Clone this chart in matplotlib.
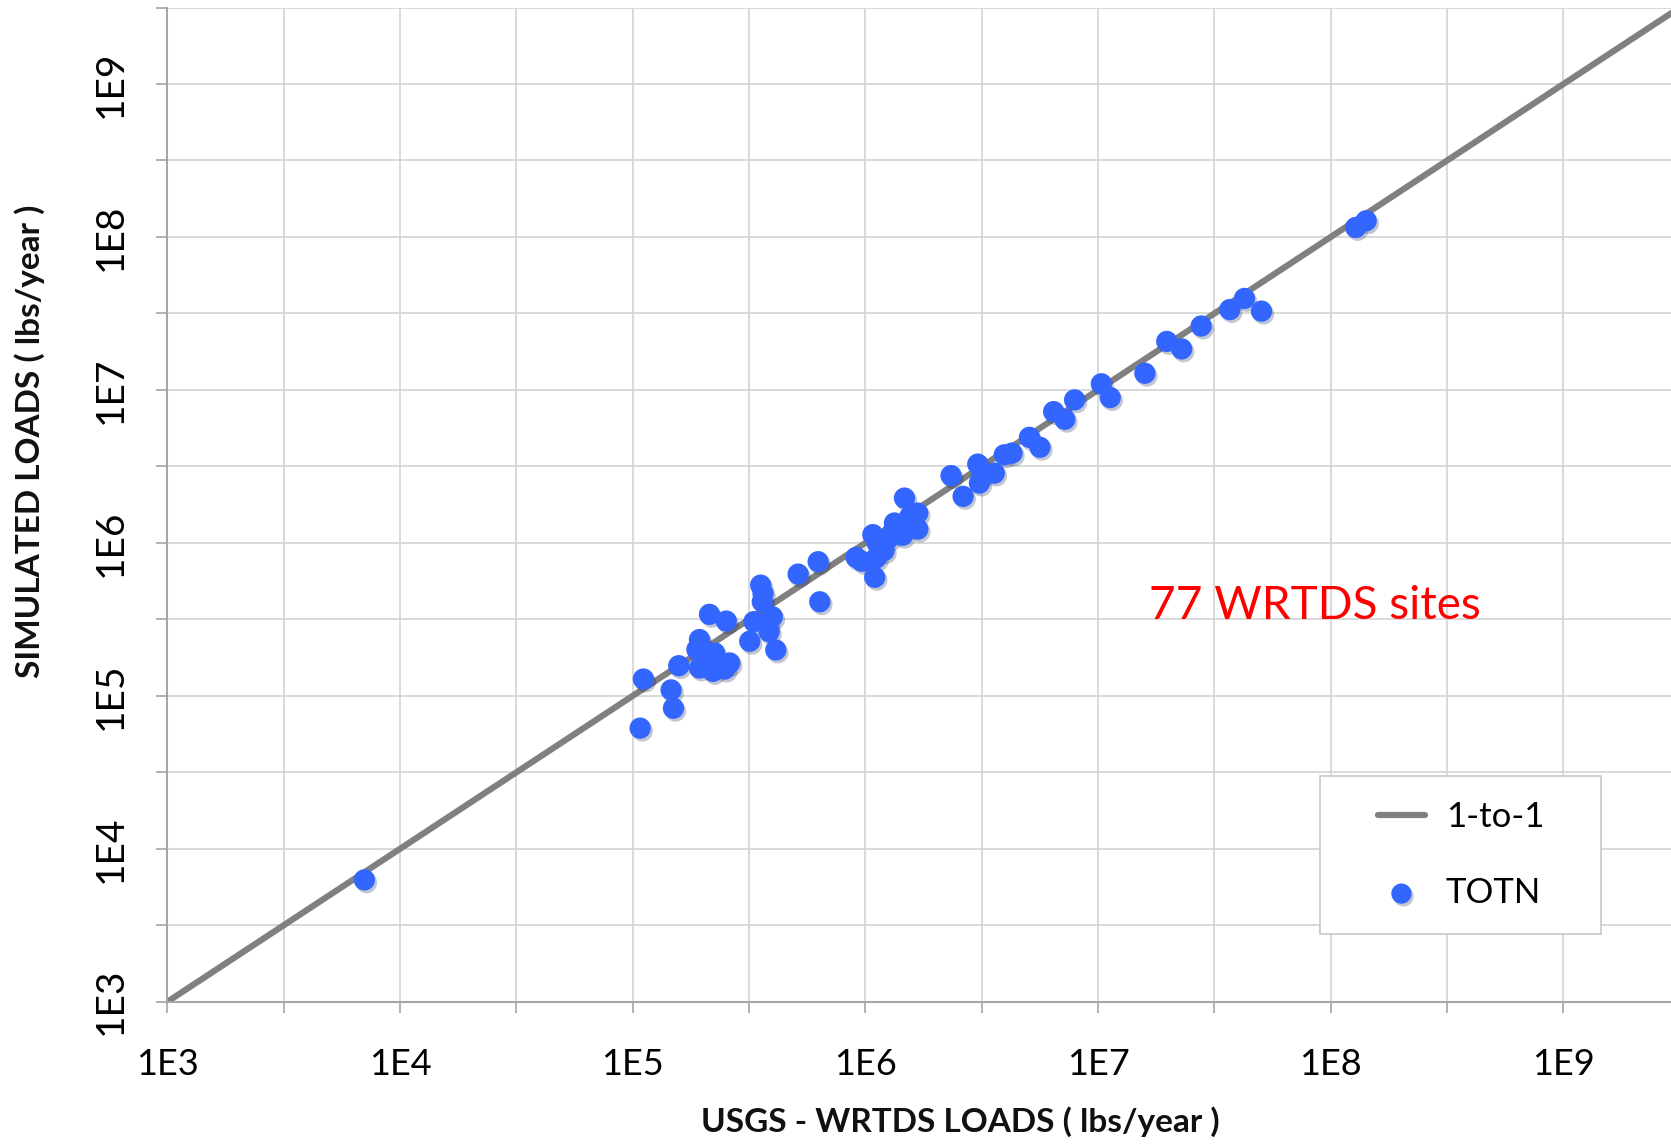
import numpy as np
import matplotlib
matplotlib.use("Agg")
import matplotlib.pyplot as plt
from matplotlib import patheffects as pe
from matplotlib.patches import Rectangle
from matplotlib.ticker import FixedLocator, FuncFormatter
import matplotlib.font_manager as fm

# ---- data (log10 values) ----
usgs_log = [3.847, 5.032, 5.046, 5.165, 5.175, 5.198, 5.276, 5.287, 5.330, 5.402,
            5.287, 5.352, 5.345, 5.417, 5.315, 5.395, 5.330, 5.370, 5.503, 5.521,
            5.550, 5.557, 5.600, 5.586, 5.615, 5.560, 5.580, 5.711, 5.797, 5.804,
            5.960, 5.985, 6.046, 6.032, 6.040, 6.100, 6.125, 6.160, 6.168, 6.225,
            6.225, 6.190, 6.080, 6.150, 6.050, 6.120, 6.368, 6.420, 6.483, 6.490,
            6.500, 6.554, 6.597, 6.630, 6.705, 6.750, 6.809, 6.857, 6.899, 7.014,
            7.052, 7.201, 7.295, 7.359, 7.443, 7.566, 7.629, 7.702, 8.107, 8.152]
sim_log = [3.797, 4.789, 5.110, 5.039, 4.919, 5.197, 5.303, 5.368, 5.533, 5.489,
           5.182, 5.281, 5.160, 5.215, 5.200, 5.175, 5.240, 5.220, 5.357, 5.485,
           5.724, 5.615, 5.517, 5.419, 5.300, 5.670, 5.470, 5.796, 5.877, 5.615,
           5.905, 5.880, 5.901, 6.054, 5.775, 6.030, 6.130, 6.050, 6.293, 6.195,
           6.090, 6.170, 5.950, 6.100, 6.000, 6.080, 6.440, 6.304, 6.515, 6.391,
           6.450, 6.456, 6.576, 6.587, 6.690, 6.625, 6.858, 6.808, 6.935, 7.040,
           6.950, 7.109, 7.317, 7.268, 7.418, 7.525, 7.598, 7.515, 8.062, 8.106]
usgs_loads = [10 ** v for v in usgs_log]
sim_loads = [10 ** v for v in sim_log]

one_to_one = [1e3, 1e10]
tick_labels = ["1E3", "1E4", "1E5", "1E6", "1E7", "1E8", "1E9"]
annotation = "77 WRTDS sites"

avail = {f.name for f in fm.fontManager.ttflist}
main_font = "Lato" if "Lato" in avail else "DejaVu Sans"
narrow_font = "Liberation Sans Narrow" if "Liberation Sans Narrow" in avail else main_font

W, H = 1671, 1144
fig = plt.figure(figsize=(W / 100, H / 100), dpi=100)
ax = fig.add_axes([167.3 / W, 1 - 1001.8 / H, 1 - 167.3 / W, (1001.8 - 7.5) / H])
ax.set_xscale("log")
ax.set_yscale("log")
ax.set_xlim(1e3, 10 ** 9.462)
ax.set_ylim(1e3, 10 ** 9.5)

half = [10 ** (k / 2) for k in range(6, 20)]


def fmt(v, p):
    lv = np.log10(v)
    if abs(lv - round(lv)) < 1e-6:
        return tick_labels[int(round(lv)) - 3] if 3 <= round(lv) <= 9 else ""
    return ""


for axis in (ax.xaxis, ax.yaxis):
    axis.set_major_locator(FixedLocator(half))
    axis.set_minor_locator(FixedLocator([]))
    axis.set_major_formatter(FuncFormatter(fmt))

ax.grid(True, which="major", color="#d3d3d3", linewidth=1.2)
ax.set_axisbelow(True)
for s in ("top", "right"):
    ax.spines[s].set_visible(False)
for s in ("left", "bottom"):
    ax.spines[s].set_color("#a6a6a6")
    ax.spines[s].set_linewidth(1.5)

ax.tick_params(axis="both", direction="out", length=8, width=1.2, color="#a6a6a6")
ax.tick_params(axis="x", pad=25, labelsize=26)
ax.tick_params(axis="y", pad=33, labelsize=28)
for lab in ax.get_xticklabels():
    lab.set_fontfamily(main_font)
for lab in ax.get_yticklabels():
    lab.set_fontfamily(narrow_font)
    lab.set_rotation(90)
    lab.set_va("center")
    lab.set_ha("center")

ax.plot(one_to_one, one_to_one, color="#808080", linewidth=4.5, zorder=2, label="1-to-1",
        solid_capstyle="round")
ax.scatter(usgs_loads, sim_loads, s=235, color="#3366ff", zorder=3, label="TOTN",
           linewidths=0,
           path_effects=[pe.SimplePatchShadow(offset=(1.5, -2), alpha=0.25), pe.Normal()])

ax.text(10 ** 7.22, 10 ** 5.59, annotation, color="#ff0000", fontsize=33,
        fontfamily=main_font, va="center", ha="left")

# legend box
x0, y0, x1, y1 = 1320.4, 775.8, 1600.7, 933.5
box = Rectangle((x0 / W, 1 - y1 / H), (x1 - x0) / W, (y1 - y0) / H,
                transform=fig.transFigure, facecolor="white", edgecolor="#c8c8c8",
                linewidth=1.2, zorder=4)
ax.add_artist(box)
leg = ax.legend(loc="center left", bbox_to_anchor=(1378 / W, 1 - 855 / H),
                bbox_transform=fig.transFigure, frameon=False,
                labelspacing=1.25, handlelength=1.35, handletextpad=0.6,
                borderpad=0, borderaxespad=0,
                prop={"family": main_font, "size": 25}, markerscale=0.95)
leg.set_zorder(5)

fig.text(960 / W, 1 - 1122 / H, "USGS - WRTDS LOADS ( lbs/year )", fontsize=24,
         fontweight="bold", fontfamily=main_font, ha="center", va="center", color="#111111")
fig.text(30 / W, 1 - 441 / H, "SIMULATED LOADS ( lbs/year )", fontsize=24,
         fontweight="bold", fontfamily=narrow_font, ha="center", va="center",
         rotation=90, color="#111111")

fig.savefig("out.png", dpi=100)
